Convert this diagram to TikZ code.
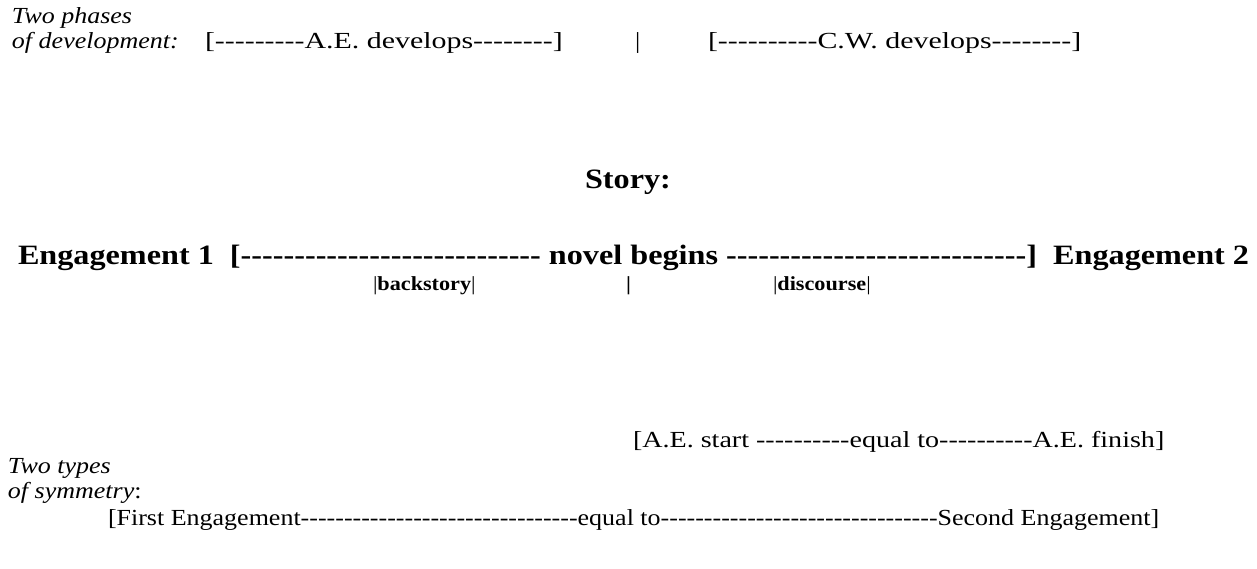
\documentclass[tikz,border=0pt]{standalone}
\usepackage{fontspec}
\usepackage{graphicx}
\setmainfont{Liberation Serif}[Ligatures=TeXOff]
\newcommand\hsc[2][1.13]{\scalebox{#1}[1]{#2}}
\begin{document}
\begin{tikzpicture}[x=1pt,y=-1pt,
  every node/.style={inner sep=0pt,outer sep=0pt,anchor=base west},
  reg/.style={font=\fontsize{23}{27}\selectfont},
  ital/.style={font=\fontsize{23}{27}\selectfont\itshape},
  big/.style={font=\fontsize{28}{32}\selectfont\bfseries},
  small/.style={font=\fontsize{20}{24}\selectfont}]
\useasboundingbox (0,0) rectangle (1257,569);
\node[ital] (p1) at (12,24) {\hsc{Two phases}};
\node[ital] (p2) at (12,49) {\hsc{of development:}};
\node[reg] (ae) at (205,49) {\hsc[1.3]{[---------A.E. develops--------]}};
\node[reg] (bar1) at (635,49) {\hsc{|}};
\node[reg] (cw) at (708,49) {\hsc[1.3]{[----------C.W. develops--------]}};
\node[big,anchor=base] (story) at (628,189) {\hsc[1.15]{Story:}};
\node[big] (e1) at (18,264) {\hsc[1.15]{Engagement 1\ \ [---------------------------- novel begins ----------------------------]\ \ Engagement 2}};
\node[small] (bs) at (373,290) {\hsc[1.11]{|\textbf{backstory}|}};
\node[small,font=\fontsize{20}{24}\selectfont\bfseries] (bar2) at (626,290) {\hsc[1.11]{|}};
\node[small] (dc) at (773,290) {\hsc[1.11]{|\textbf{discourse}|}};
\node[reg] (aes) at (633,447) {\hsc[1.22]{[A.E. start ----------equal to----------A.E. finish]}};
\node[ital] (t1) at (8,473) {\hsc{Two types}};
\node[ital] (t2) at (8,498) {\hsc{of symmetry\upshape:}};
\node[reg] (fe) at (108,525) {\hsc{[First Engagement--------------------------------equal to--------------------------------Second Engagement]}};
\end{tikzpicture}
\end{document}
